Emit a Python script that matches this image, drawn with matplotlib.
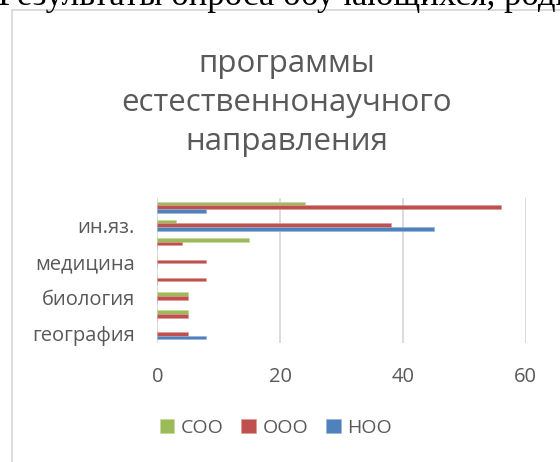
import numpy as np
import matplotlib.pyplot as plt
from matplotlib.lines import Line2D

plt.rcParams['font.family'] = ['Open Sans', 'DejaVu Sans']

# данные
categories = ['география', '', 'биология', '', 'медицина', '', 'ин.яз.', '']
soo = [0, 5, 5, 0, 0, 15, 3, 24]
ooo = [5, 5, 5, 8, 8, 4, 38, 56]
noo = [8, 0, 0, 0, 0, 0, 45, 8]
series_names = ['СОО', 'ООО', 'НОО']
x_ticks = [0, 20, 40, 60]

GREEN = '#9BBB59'
RED = '#C0504D'
BLUE = '#4F81BD'
TEXT = '#595959'
GRID = '#D9D9D9'

W, H = 560, 462
fig = plt.figure(figsize=(W / 100, H / 100), dpi=100)

# обрезанный текст документа сверху
fig.text(-0.004, 1 - 5 / H, 'Результаты опроса обучающихся, родителей',
         family='Liberation Serif', fontsize=25, color='black',
         ha='left', va='baseline')

# рамка диаграммы
fig.add_artist(Line2D([12 / W, 12 / W], [0, 1 - 10 / H], color=GRID, lw=1.3))
fig.add_artist(Line2D([12 / W, 1], [1 - 10 / H, 1 - 10 / H], color=GRID, lw=1.3))

# заголовок
fig.text(287 / W, 1 - 103 / H, 'программы\nестественнонаучного\nнаправления',
         fontsize=22.5, color=TEXT, ha='center', va='center', linespacing=1.4)

ax = fig.add_axes([157.3 / W, 1 - 343 / H, (525.7 - 157.3) / W, 145 / H])
y = np.arange(len(categories))
h = 0.2
ax.barh(y + h, soo, height=h, color=GREEN, edgecolor='#C4D79B', lw=0.4, label=series_names[0])
ax.barh(y, ooo, height=h, color=RED, edgecolor='#DA9694', lw=0.4, label=series_names[1])
ax.barh(y - h, noo, height=h, color=BLUE, edgecolor='#95B3D7', lw=0.4, label=series_names[2])

ax.set_xlim(0, 60)
ax.set_ylim(-0.5, len(categories) - 0.5)
ax.set_xticks(x_ticks)
ax.set_yticks(y[::2])
ax.set_yticklabels(categories[::2])
ax.tick_params(axis='x', length=0, pad=17, labelsize=14.5, labelcolor=TEXT)
ax.tick_params(axis='y', length=0, pad=16, labelsize=14.5, labelcolor=TEXT)
for s in ax.spines.values():
    s.set_visible(False)
ax.grid(axis='x', color=GRID, lw=1.3)
ax.set_axisbelow(True)

handles, labels = ax.get_legend_handles_labels()
fig.legend(handles, labels, loc='center', bbox_to_anchor=(276 / W, 1 - 428 / H),
           ncol=3, frameon=False, fontsize=14, labelcolor=TEXT,
           handlelength=0.75, handleheight=0.75, handletextpad=0.35,
           columnspacing=0.9)

fig.savefig('out.png', dpi=100)
